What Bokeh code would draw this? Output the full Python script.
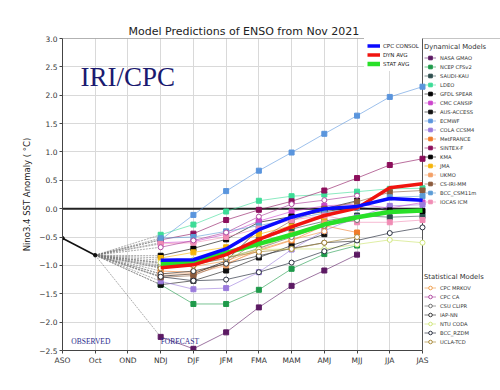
from bokeh.plotting import figure
from bokeh.models import Legend, LegendItem, Span, Label, BoxAnnotation
from bokeh.embed import file_html
from bokeh.resources import INLINE

# ---------------- data ----------------
seasons = ["ASO", "Oct", "OND", "NDJ", "DJF", "JFM", "FMA", "MAM", "AMJ", "MJJ", "JJA", "JAS"]
forecast_seasons = ["NDJ", "DJF", "JFM", "FMA", "MAM", "AMJ", "MJJ", "JJA", "JAS"]
observed_seasons = ["ASO", "Oct"]
observed = [-0.52, -0.82]

y_ticks = [-2.5, -2.0, -1.5, -1.0, -0.5, 0.0, 0.5, 1.0, 1.5, 2.0, 2.5, 3.0]
y_tick_labels = ["\u22122.5", "\u22122.0", "\u22121.5", "\u22121.0", "\u22120.5", "0.0",
                 "0.5", "1.0", "1.5", "2.0", "2.5", "3.0"]

# dynamical models (NDJ ... as far as each runs)
nasa_gmao = [-2.26, -2.47, -2.18, -1.74, -1.36, -1.09, -0.81]
ncep_cfsv2 = [-1.34, -1.68, -1.68, -1.43, -1.06, -0.80, -0.65]
saudi_kau = [-1.02, -0.97, -0.80, -0.55, -0.36, -0.22, -0.12, -0.15, -0.13]
ldeo = [-0.46, -0.28, -0.05, 0.14, 0.22, 0.25, 0.30, 0.35, 0.36]
gfdl_spear = [-0.83, -0.70, -0.54, -0.24, -0.14, 0.00, 0.14]
cmc_cansip = [-0.60, -0.58, -0.45, -0.22, -0.05, 0.05, 0.08, 0.01, 0.11]
aus_access = [-1.34, -1.27, -1.09, -0.86, -0.65, -0.45]
ecmwf = [-0.55, -0.11, 0.31, 0.67, 0.99, 1.32, 1.64, 1.97, 2.15]
cola_ccsm4 = [-1.28, -1.42, -1.40, -1.12, -0.72, -0.39, -0.15, 0.05, 0.07]
metfrance = [-1.10, -1.12, -0.97, -0.74, -0.56, -0.30, -0.42]
sintex_f = [-0.55, -0.44, -0.20, -0.02, 0.13, 0.32, 0.54, 0.77, 0.88]
kma = [-1.19, -1.15, -0.92, -0.36, -0.14, -0.05, 0.02, -0.03, -0.04]
jma = [-0.87, -0.77, -0.68, -0.45, -0.30, -0.15]
ukmo = [-1.15, -1.15, -1.00, -0.70, -0.45, -0.25]
cs_iri_mm = [-1.21, -1.18, -0.95, -0.55, -0.21, 0.00, 0.12, 0.29, 0.32]
bcc_csm11m = [-0.52, -0.50, -0.40, -0.30, -0.18, -0.08, 0.02, 0.20, 0.22]
iocas_icm = [-0.62, -0.60, -0.50, -0.35, -0.20, -0.12, -0.24, -0.24, -0.20]

# statistical models
cpc_mrkov = [-0.95, -1.02, -0.92, -0.72, -0.55, -0.40]
cpc_ca = [-0.68, -0.56, -0.42, -0.14, 0.08, 0.15, 0.23]
csu_clipr = [-1.00, -0.98, -0.88, -0.70, -0.50, -0.30, -0.20]
iap_nn = [-1.15, -1.10, -0.97, -0.83, -0.70, -0.60, -0.57]
ntu_coda = [-0.95, -0.90, -0.85, -0.72, -0.71, -0.71, -0.63, -0.55, -0.60]
bcc_rzdm = [-1.20, -1.27, -1.25, -1.12, -0.95, -0.75, -0.56, -0.43, -0.33]
ucla_tcd = [-1.05, -1.00, -0.86, -0.76, -0.71, -0.60, -0.50]

# averages
cpc_consol = [-0.91, -0.90, -0.71, -0.37, -0.15, 0.00, 0.04, 0.18, 0.15]
dyn_avg = [-1.04, -0.99, -0.81, -0.54, -0.32, -0.12, 0.01, 0.37, 0.44]
stat_avg = [-0.97, -0.94, -0.78, -0.62, -0.46, -0.28, -0.15, -0.06, -0.03]

dyn_names = ["NASA GMAO", "NCEP CFSv2", "SAUDI-KAU", "LDEO", "GFDL SPEAR", "CMC CANSIP",
             "AUS-ACCESS", "ECMWF", "COLA CCSM4", "MetFRANCE", "SINTEX-F", "KMA", "JMA",
             "UKMO", "CS-IRI-MM", "BCC_CSM11m", "IOCAS ICM"]
dyn_values = [nasa_gmao, ncep_cfsv2, saudi_kau, ldeo, gfdl_spear, cmc_cansip, aus_access,
              ecmwf, cola_ccsm4, metfrance, sintex_f, kma, jma, ukmo, cs_iri_mm,
              bcc_csm11m, iocas_icm]
stat_names = ["CPC MRKOV", "CPC CA", "CSU CLIPR", "IAP-NN", "NTU CODA", "BCC_RZDM", "UCLA-TCD"]
stat_values = [cpc_mrkov, cpc_ca, csu_clipr, iap_nn, ntu_coda, bcc_rzdm, ucla_tcd]
avg_names = ["CPC CONSOL", "DYN AVG", "STAT AVG"]
avg_values = [cpc_consol, dyn_avg, stat_avg]

# ---------------- styles ----------------
dyn_colors = ["#5c1a63", "#1e9a4a", "#2f4f4f", "#3ddc97", "#000000", "#cc44cc", "#111111",
              "#5a95dd", "#9b7bdc", "#f07c2a", "#8c0f5c", "#000000", "#f5b50a", "#f4a066",
              "#8b5a3c", "#5b9bd5", "#f08cb4"]
stat_colors = ["#f0a050", "#b04aa0", "#707070", "#3a3a3a", "#d0e67a", "#2a3040", "#a88a3a"]
avg_colors = ["#0a0aff", "#f0140f", "#28e028"]
avg_widths = [3.5, 3.5, 4.5]

idx = {s: i for i, s in enumerate(seasons)}
last = len(seasons) - 1

W, H = 500, 390
LEFT, RIGHT, TOP, BOTTOM = 62, 0, 38, 40
DATA_W = 360  # pixels covered by ASO..JAS
x_end = last * (W - LEFT - RIGHT) / DATA_W


def xs_for(vals):
    return [idx[s] for s in forecast_seasons[:len(vals)]]


p = figure(width=W, height=H, x_range=(0, x_end), y_range=(y_ticks[0], y_ticks[-1]),
           output_backend="svg", toolbar_location=None,
           min_border_left=LEFT, min_border_right=RIGHT, min_border_top=TOP,
           min_border_bottom=BOTTOM, title="Model Predictions of ENSO from Nov 2021")

p.title.align = "left"
p.title.offset = 66
p.title.text_font = "DejaVu Sans"
p.title.text_font_size = "11px"
p.title.text_font_style = "normal"
p.title.text_color = "#222222"
p.title.standoff = 2

p.xaxis.ticker = list(range(len(seasons)))
p.xaxis.major_label_overrides = {i: s for i, s in enumerate(seasons)}
p.xaxis.bounds = (0, last)
p.yaxis.ticker = y_ticks
p.yaxis.major_label_overrides = {v: t for v, t in zip(y_ticks, y_tick_labels)}
p.xgrid.ticker = list(range(len(seasons)))
p.ygrid.ticker = y_ticks
p.grid.grid_line_color = "#d9d9d9"
p.grid.grid_line_width = 1

for ax in (p.xaxis, p.yaxis):
    ax.axis_line_color = "#444444"
    ax.major_tick_line_color = "#444444"
    ax.minor_tick_line_color = None
    ax.major_tick_out = 3
    ax.major_tick_in = 0
    ax.major_label_text_font = "DejaVu Sans"
    ax.major_label_text_font_size = "7.5px"
    ax.major_label_text_color = "#333333"
    ax.major_label_standoff = 2

p.yaxis.axis_label = "Nino3.4 SST Anomaly ( \u00b0C)"
p.yaxis.axis_label_text_font = "DejaVu Sans"
p.yaxis.axis_label_text_font_size = "8.5px"
p.yaxis.axis_label_text_font_style = "normal"
p.yaxis.axis_label_text_color = "#222222"
p.yaxis.axis_label_standoff = 4

p.outline_line_color = None

# zero line and top edge, then mask the legend area beyond JAS, then right edge
p.add_layout(Span(location=0, dimension="width", line_color="#222222", line_width=2,
                  level="underlay"))
p.add_layout(Span(location=y_ticks[-1], dimension="width", line_color="#666666",
                  line_width=1, level="underlay"))
p.add_layout(BoxAnnotation(left=last, fill_color="white", fill_alpha=1, line_alpha=0,
                           level="underlay"))
p.add_layout(Span(location=last, dimension="height", line_color="#555555", line_width=1,
                  level="underlay"))

# connectors from last observation to first forecast
all_first = [v[0] for v in dyn_values + stat_values + avg_values]
p.multi_line(xs=[[idx["Oct"], idx["NDJ"]] for _ in all_first],
             ys=[[observed[-1], f] for f in all_first],
             line_color="#777777", line_width=0.6, line_dash="2 1")

# observed
p.line([idx[s] for s in observed_seasons], observed, line_color="#111111", line_width=1.6)
p.scatter([idx[s] for s in observed_seasons], observed, size=3.5, marker="circle",
          fill_color="#111111", line_color="#111111")

dyn_items = []
for name, vals, col in zip(dyn_names, dyn_values, dyn_colors):
    xs = xs_for(vals)
    rl = p.line(xs, vals, line_color=col, line_width=0.8, line_alpha=0.75)
    rs = p.scatter(xs, vals, marker="square", size=5, fill_color=col, line_color=col)
    dyn_items.append(LegendItem(label=name, renderers=[rl, rs]))

stat_items = []
for name, vals, col in zip(stat_names, stat_values, stat_colors):
    xs = xs_for(vals)
    rl = p.line(xs, vals, line_color=col, line_width=0.8, line_alpha=0.85)
    rs = p.scatter(xs, vals, marker="circle", size=5, fill_color="white", line_color=col,
                   line_width=1)
    stat_items.append(LegendItem(label=name, renderers=[rl, rs]))

avg_renderers = {}
for name, vals, col, w in zip(avg_names[::-1], avg_values[::-1], avg_colors[::-1], avg_widths[::-1]):
    avg_renderers[name] = p.line(xs_for(vals), vals, line_color=col, line_width=w)
avg_items = [LegendItem(label=n, renderers=[avg_renderers[n]]) for n in avg_names]

# texts
p.add_layout(Label(x=0.55, y=2.05, text="IRI/CPC", text_font="Liberation Serif",
                   text_font_size="27px", text_color="#1a1a70"))
p.add_layout(Label(x=0.27, y=-2.42, text="OBSERVED", text_font="Liberation Serif",
                   text_font_size="7.5px", text_color="#2a2a8a"))
p.add_layout(Label(x=3.0, y=-2.42, text="FORECAST", text_font="Liberation Serif",
                   text_font_size="7.5px", text_color="#2a2a8a"))

# legends
avg_leg = Legend(items=avg_items, location=(302, 279), margin=0, padding=3, spacing=0,
                 label_height=9, glyph_height=9, glyph_width=13, label_standoff=3,
                 label_text_font="DejaVu Sans", label_text_font_size="5.5px",
                 label_text_color="#222222", background_fill_color="white",
                 background_fill_alpha=1, border_line_alpha=0)
p.add_layout(avg_leg, "center")

common = dict(spacing=0, padding=2, margin=0, label_height=9, glyph_height=9, glyph_width=12,
              label_standoff=4, label_text_font="DejaVu Sans", label_text_font_size="5.2px",
              label_text_color="#333333", title_text_font="DejaVu Sans",
              title_text_font_size="6.8px", title_text_font_style="normal",
              title_text_color="#333333", title_standoff=2,
              background_fill_alpha=0, border_line_alpha=0)
dyn_leg = Legend(items=dyn_items, title="Dynamical Models", location=(360, 142), **common)
stat_leg = Legend(items=stat_items, title="Statistical Models", location=(360, 2), **common)
p.add_layout(dyn_leg, "center")
p.add_layout(stat_leg, "center")

open("out.html", "w").write(file_html(p, INLINE))
